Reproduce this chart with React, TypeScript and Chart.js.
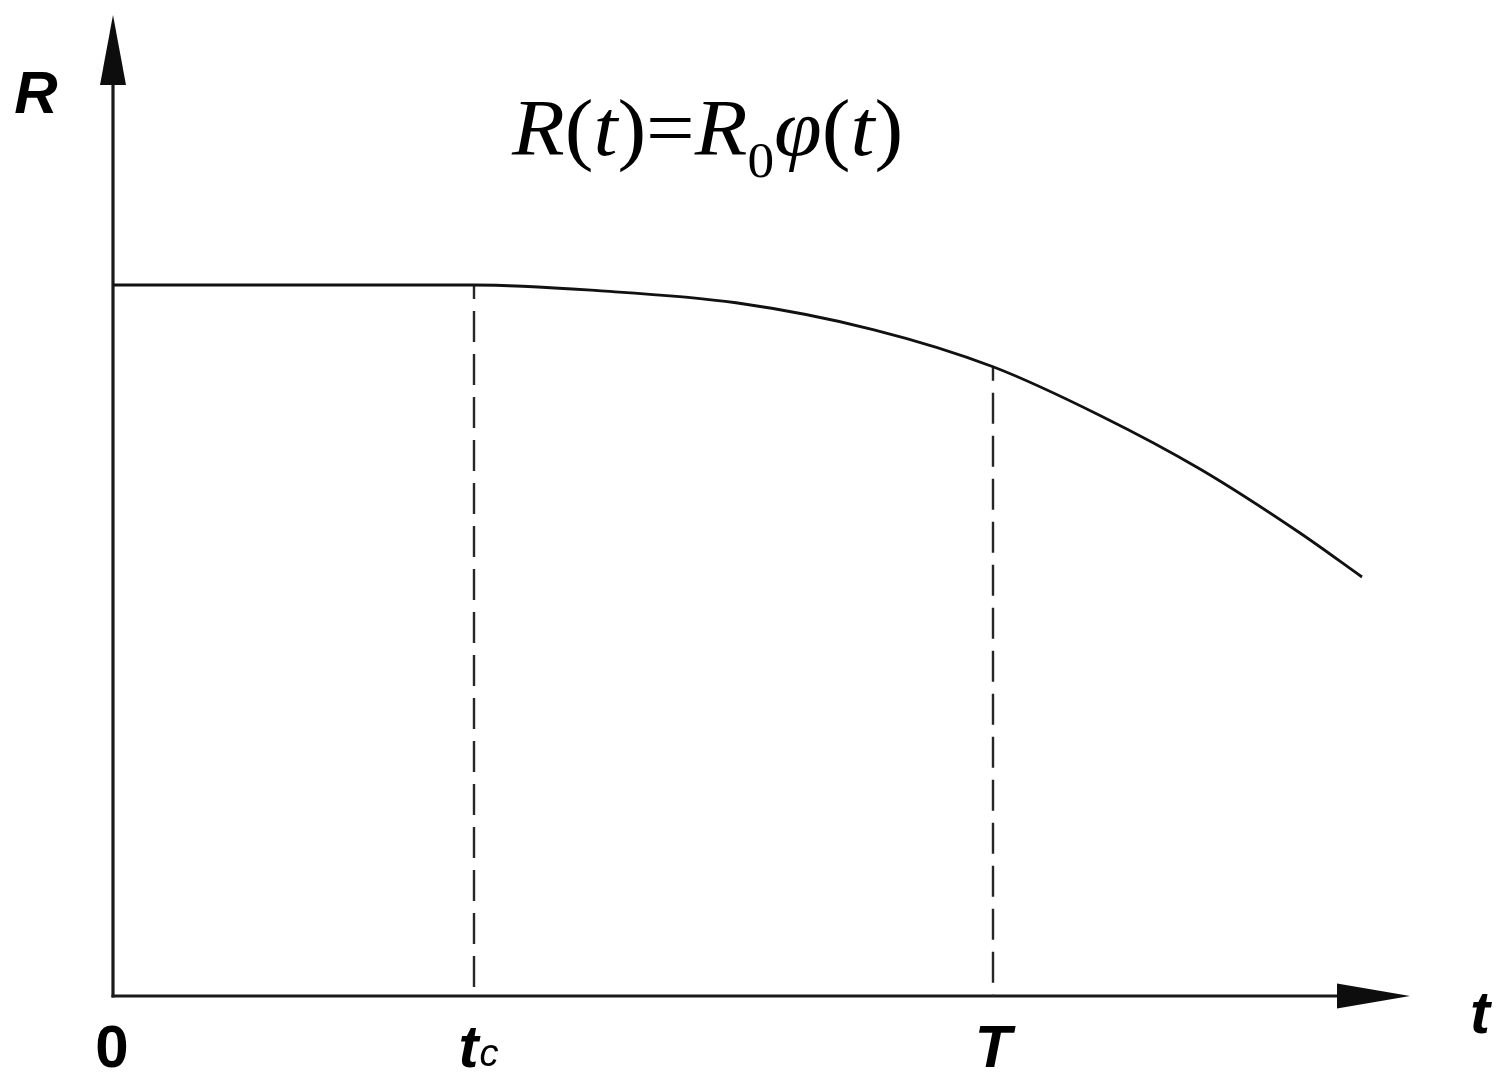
import React, { useEffect, useRef } from 'react';
import { Chart, registerables } from 'chart.js';

Chart.register(...registerables);

// ---- data (arbitrary units: t along the horizontal axis, R along the vertical axis) ----
const curveT = [0, 1.8, 3.61, 4.85, 6.23, 7.61, 8.8, 9.87, 10.87, 11.87, 12.49];
const curveR = [1, 1, 1, 0.992, 0.975, 0.937, 0.885, 0.8165, 0.7412, 0.6512, 0.5893];

const markerT = [3.61, 8.8]; // t_c and T
const markerR = [1, 0.885];

const tickValues = [0, 3.61, 8.8];
const tickMain = ['0', 't', 'T'];
const tickSub = ['', 'c', ''];
const tickItalic = [false, true, true];

const xAxisTitle = 't';
const yAxisTitle = 'R';

const xMax = 12.97;
const yMax = 1.3797;

const SANS = '"Liberation Sans", Arial, sans-serif';
const SERIF = '"Liberation Serif", "Times New Roman", serif';

const decorPlugin = {
  id: 'decor',
  beforeDatasetsDraw(chart: any) {
    const { ctx, chartArea, scales } = chart;
    const x0 = scales.x.getPixelForValue(0);
    const y0 = scales.y.getPixelForValue(0);
    ctx.save();
    ctx.strokeStyle = '#1a1a1a';
    ctx.fillStyle = '#0d0d0d';
    ctx.lineWidth = 3.2;
    // vertical axis
    ctx.beginPath();
    ctx.moveTo(x0, y0 + 1.5);
    ctx.lineTo(x0, chartArea.top + 60);
    ctx.stroke();
    // horizontal axis
    ctx.beginPath();
    ctx.moveTo(x0 - 1.5, y0);
    ctx.lineTo(chartArea.right - 60, y0);
    ctx.stroke();
    // arrow heads
    ctx.beginPath();
    ctx.moveTo(x0, chartArea.top);
    ctx.lineTo(x0 - 13, chartArea.top + 70);
    ctx.lineTo(x0 + 13, chartArea.top + 70);
    ctx.closePath();
    ctx.fill();
    ctx.beginPath();
    ctx.moveTo(chartArea.right, y0);
    ctx.lineTo(chartArea.right - 73, y0 - 12.5);
    ctx.lineTo(chartArea.right - 73, y0 + 12.5);
    ctx.closePath();
    ctx.fill();
    ctx.restore();
  },
  afterDraw(chart: any) {
    const { ctx, chartArea, scales } = chart;
    const x0 = scales.x.getPixelForValue(0);
    const y0 = scales.y.getPixelForValue(0);
    ctx.save();
    ctx.fillStyle = '#000';
    ctx.textBaseline = 'alphabetic';

    // tick labels
    tickValues.forEach((v, i) => {
      const px = scales.x.getPixelForValue(v);
      const mainFont = (tickItalic[i] ? 'italic ' : '') + 'bold 60px ' + SANS;
      const subFont = 'italic 38px ' + SANS;
      ctx.font = mainFont;
      const wMain = ctx.measureText(tickMain[i]).width;
      ctx.font = subFont;
      const wSub = tickSub[i] ? ctx.measureText(tickSub[i]).width : 0;
      const total = wMain + wSub;
      const baseline = y0 + 71;
      const left = px - total / 2 + (tickSub[i] ? 4 : 0) - (i === 0 ? 1 : 0);
      ctx.font = mainFont;
      ctx.textAlign = 'left';
      ctx.fillText(tickMain[i], left, baseline);
      if (tickSub[i]) {
        ctx.font = subFont;
        ctx.fillText(tickSub[i], left + wMain + 1, baseline - 1);
      }
    });

    // axis titles
    ctx.font = 'italic bold 60px ' + SANS;
    ctx.textAlign = 'center';
    ctx.fillText(xAxisTitle, chartArea.right + 70, y0 + 37);
    ctx.fillText(yAxisTitle, x0 - 77, chartArea.top + 98);

    // formula R(t)=R0φ(t)
    const parts: [string, string, number][] = [
      ['R', 'italic 81px ' + SERIF, 0],
      ['(', '81px ' + SERIF, 0],
      ['t', 'italic 81px ' + SERIF, 0],
      [')', '81px ' + SERIF, 0],
      ['=', '81px ' + SERIF, 0],
      ['R', 'italic 81px ' + SERIF, 0],
      ['0', '50px ' + SERIF, 22],
      ['φ', 'italic 81px ' + SERIF, 0],
      ['(', '81px ' + SERIF, 0],
      ['t', 'italic 81px ' + SERIF, 0],
      [')', '81px ' + SERIF, 0],
    ];
    const fx0 = x0 + 399;
    const fy = chartArea.top + 140;
    ctx.translate(fx0, fy);
    ctx.scale(1.065, 1);
    let fx = 0;
    ctx.textAlign = 'left';
    parts.forEach(([s, f, dy]) => {
      ctx.font = f;
      ctx.fillText(s, fx, dy);
      fx += ctx.measureText(s).width;
    });
    ctx.restore();
  },
};

export default function App() {
  const canvasRef = useRef<HTMLCanvasElement | null>(null);

  useEffect(() => {
    document.body.style.margin = '0';
    const canvas = canvasRef.current;
    if (!canvas) return;
    const chart = new Chart(canvas, {
      type: 'line',
      data: {
        datasets: [
          {
            data: curveT.map((t, i) => ({ x: t, y: curveR[i] })),
            borderColor: '#111',
            borderWidth: 2.8,
            pointRadius: 0,
            cubicInterpolationMode: 'monotone',
            fill: false,
          },
          ...markerT.map((t, i) => ({
            data: [
              { x: t, y: markerR[i] },
              { x: t, y: 0 },
            ],
            borderColor: '#262626',
            borderWidth: 2.4,
            borderDash: [31, 12],
            borderDashOffset: 17,
            pointRadius: 0,
            tension: 0,
            fill: false,
          })),
        ],
      },
      options: {
        responsive: false,
        animation: false,
        devicePixelRatio: 1,
        layout: { padding: { left: 113, right: 95, top: 15, bottom: 80 } },
        plugins: { legend: { display: false }, tooltip: { enabled: false } },
        scales: {
          x: { type: 'linear', min: 0, max: xMax, display: false },
          y: { type: 'linear', min: 0, max: yMax, display: false },
        },
      },
      plugins: [decorPlugin],
    } as any);
    return () => chart.destroy();
  }, []);

  return (
    <div style={{ width: 1505, height: 1076, overflow: 'hidden', background: '#fff' }}>
      <canvas ref={canvasRef} width={1505} height={1076} style={{ display: 'block' }} />
    </div>
  );
}
